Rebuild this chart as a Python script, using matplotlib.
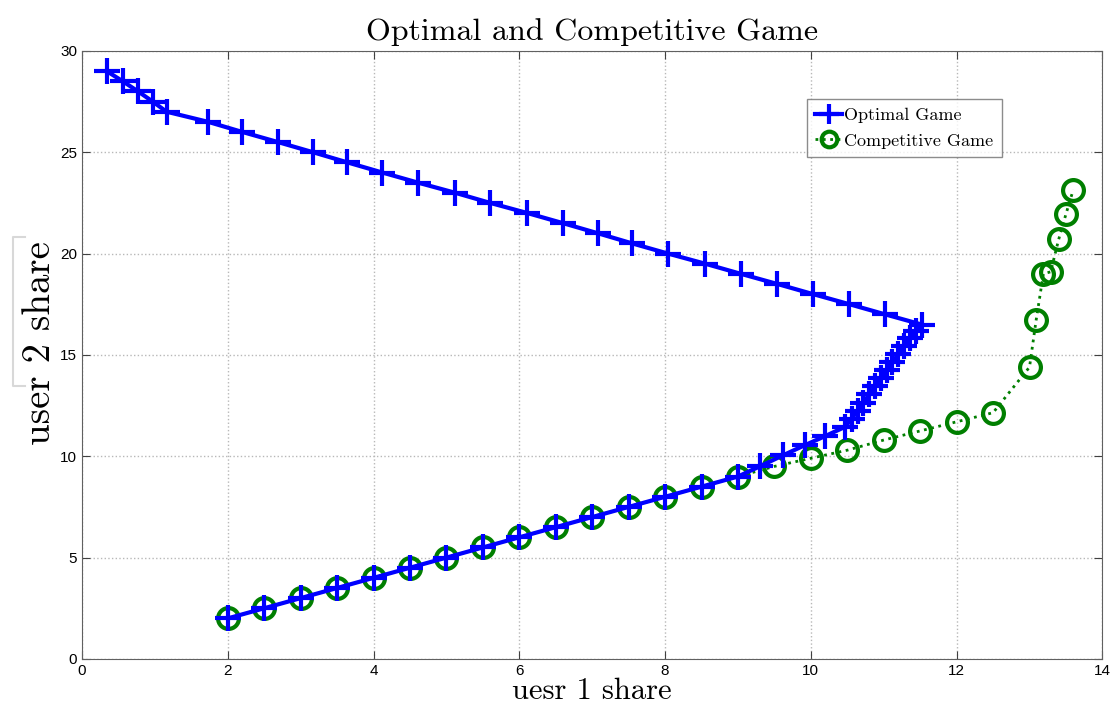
import matplotlib
matplotlib.use("Agg")
import matplotlib.pyplot as plt
from matplotlib.lines import Line2D

# optimal game path: lower branch up to the corner, then back along the upper branch
opt_x = [2, 2.5, 3, 3.5, 4, 4.5, 5, 5.5, 6, 6.5, 7, 7.5, 8, 8.5, 9,
         9.3, 9.62, 9.92, 10.2, 10.47, 10.56, 10.64, 10.72, 10.8, 10.88,
         10.96, 11.04, 11.12, 11.2, 11.28, 11.36, 11.44, 11.52,
         11.02, 10.53, 10.03, 9.54, 9.04, 8.55, 8.04, 7.55, 7.08, 6.6,
         6.11, 5.6, 5.12, 4.61, 4.12, 3.64, 3.17, 2.69, 2.2, 1.73,
         1.16, 0.97, 0.77, 0.56, 0.34]
opt_y = [2, 2.5, 3, 3.5, 4, 4.5, 5, 5.5, 6, 6.5, 7, 7.5, 8, 8.5, 9,
         9.5, 10.05, 10.55, 11.0, 11.45, 11.85, 12.25, 12.65, 13.05, 13.45,
         13.85, 14.25, 14.65, 15.05, 15.45, 15.85, 16.2, 16.5,
         17, 17.5, 18, 18.5, 19, 19.5, 20, 20.5, 21, 21.5,
         22, 22.5, 23, 23.5, 24, 24.5, 25, 25.5, 26, 26.5,
         27, 27.5, 28, 28.5, 29]

# competitive game equilibrium path
comp_x = [2, 2.5, 3, 3.5, 4, 4.5, 5, 5.5, 6, 6.5, 7, 7.5, 8, 8.5, 9,
          9.5, 10, 10.5, 11, 11.5, 12, 12.5, 13, 13.09, 13.19, 13.29,
          13.4, 13.5, 13.6]
comp_y = [2, 2.5, 3, 3.5, 4, 4.5, 5, 5.5, 6, 6.5, 7, 7.5, 8, 8.5, 9,
          9.5, 9.9, 10.3, 10.8, 11.25, 11.7, 12.15, 14.4, 16.7, 19.0, 19.1,
          20.7, 21.95, 23.15]

x_ticks = [0, 2, 4, 6, 8, 10, 12, 14]
y_ticks = [0, 5, 10, 15, 20, 25, 30]

serif = "cmr10"
tick_font = ["Liberation Sans Narrow", "Liberation Sans", "DejaVu Sans"]

fig = plt.figure(figsize=(11.14, 7.07), dpi=100)
ax = fig.add_axes([0.0736, 0.068, 0.916, 0.86])

ax.plot(comp_x, comp_y, ":", color="#007f00", lw=2, marker="o",
        ms=15, mew=3, mfc="none", label="Competitive Game", zorder=2)
ax.plot(opt_x, opt_y, "-", color="#0000ff", lw=3, marker="+",
        ms=19, mew=3, label="Optimal Game", zorder=3)

ax.set_xlim(0, 14)
ax.set_ylim(0, 30)
ax.set_xticks(x_ticks)
ax.set_yticks(y_ticks)
ax.grid(True, ls=":", color="#b8b8b8", lw=1)
ax.tick_params(direction="in", top=True, right=True, length=6,
               labelsize=11, colors="#404040", labelcolor="black")
for lab in ax.get_xticklabels() + ax.get_yticklabels():
    lab.set_family(tick_font)
for sp in ax.spines.values():
    sp.set_color("#606060")

ax.set_title("Optimal and Competitive Game", family=serif, fontsize=23, pad=8)
ax.set_xlabel("uesr 1 share", family=serif, fontsize=22, labelpad=0)
ax.set_ylabel("user 2 share", family=serif, fontsize=28)
ax.yaxis.set_label_coords(-0.0235, 0.52)

handles, labels = ax.get_legend_handles_labels()
leg = ax.legend(handles[::-1], labels[::-1], loc="upper right",
                bbox_to_anchor=(0.91, 0.935), prop={"family": serif, "size": 13},
                handlelength=1.5, handletextpad=0.1, borderpad=0.45,
                labelspacing=0.55, fancybox=False, markerscale=0.75)
leg.get_frame().set_edgecolor("#707070")
leg.get_frame().set_linewidth(1)

# faint bracket left of the y label
bx = [25 / 1114, 13 / 1114, 13 / 1114, 25 / 1114]
by = [1 - 237 / 707, 1 - 237 / 707, 1 - 386 / 707, 1 - 386 / 707]
fig.add_artist(Line2D(bx, by, color="#d8d8d8", lw=1.5))

fig.savefig("out.png", dpi=100)
